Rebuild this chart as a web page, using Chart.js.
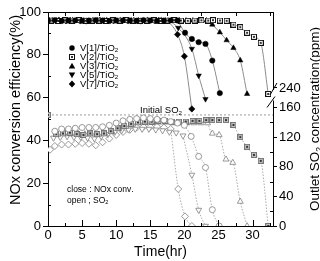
<!DOCTYPE html>
<html><head><meta charset="utf-8">
<script src="https://cdn.jsdelivr.net/npm/chart.js"></script>
<style>html,body{margin:0;padding:0;background:#fff}canvas{display:block}</style>
</head><body>
<canvas id="c" width="320" height="261" style="width:320px;height:261px"></canvas>
<script>
// ---------------- data ----------------
const catalysts = ['V[1]/TiO2','V[2]/TiO2','V[3]/TiO2','V[5]/TiO2','V[7]/TiO2'];
const xTicks = [0,5,10,15,20,25,30];
const leftTicks = [0,20,40,60,80,100];
const rightTicks = [0,40,80,120,160,240];
const initialSO2 = 150;

// NOx conversion (%), closed symbols
const noxTimeV1 = [0,1,2,3,4,5,6,7,8,9,10,11,12,13,14,15,16,17,18,19,20.1,21.1,22.1,23.1,24.1,25.2];
const noxV1     = [96,96.2,95.8,96,96.1,95.9,96,96.2,96,95.8,96,96.1,96,95.9,96.2,96,95.8,96,96.1,96,90.3,87.4,85.9,85.1,77.3,62.1];
const noxTimeV2 = [0.5,1.5,2.5,3.5,4.5,5.5,6.5,7.5,8.5,9.5,10.5,11.5,12.5,13.5,14.5,15.5,16.5,17.5,18.5,19.5,20.5,21.5,22.5,23.5,24.2,25.2,26.2,27.2,28.2,29.2,30.2,31.2,32.3];
const noxV2     = [96,95.8,96.1,96,96.2,95.9,96,96,95.8,96.1,96,96.2,96,95.9,96,96.1,95.8,96,96.2,96,95.9,96,96.1,96,96.2,96,95.9,94.1,92.9,90.3,88.4,85.6,61.7];
const noxTimeV3 = [0.25,1.25,2.25,3.25,4.25,5.25,6.25,7.25,8.25,9.25,10.25,11.25,12.25,13.25,14.25,15.25,16.25,17.25,18.25,19.25,20.25,21.25,22.25,23.25,24.1,25.2,26.2,27.2,28.2,29.2];
const noxV3     = [96.1,96,95.9,96.2,96,96,95.8,96.1,96,96.2,95.9,96,96,96.1,95.8,96,96.2,96,95.9,96.1,96,96,95.8,96,94.1,90.5,86.8,83.2,77.4,61.7];
const noxTimeV5 = [0.75,1.75,2.75,3.75,4.75,5.75,6.75,7.75,8.75,9.75,10.75,11.75,12.75,13.75,14.75,15.75,16.75,17.75,19.1,21.1,22.1,23.1];
const noxV5     = [95.9,96.1,96,96.2,95.8,96,96.1,96,95.9,96.2,96,95.8,96,96.1,96,95.9,96.2,96,92.6,82.8,70.3,59.3];
const noxTimeV7 = [0.6,1.6,2.6,3.6,4.6,5.6,6.6,7.6,8.6,9.6,10.6,11.6,12.6,13.6,14.6,15.6,16.6,17.6,19.0,20.0,21.1];
const noxV7     = [96,96.2,95.9,96,96.1,95.8,96,96.2,96,95.9,96,96.1,96,95.8,96.2,96,96,95.9,89.5,79.3,54.7];

// Outlet SO2 (ppm), open symbols
const so2TimeV1 = [1,2,3,4,5,6,7,8,9,10,11,12,13,14,15,16,17,18,19,20,21,22.1,23.1,24.1,25.1];
const so2V1     = [128,131,131,132,133,133,133,134,136,139,142,144,145,146,145,144,143,141,139,136,121,94,79,22,0];
const so2TimeV2 = [0,1.2,2.2,3.2,4.2,5.2,6.2,7.2,8.2,9.2,10.2,11.2,12.2,13.2,14.2,15.2,16.2,17.2,18.2,19.2,20.2,21.2,22.2,23.2,24.1,25.1,26.1,27.2,28.2,29.2,30.2,31.2,32.3];
const so2V2     = [150,124,125,126,124,123,125,124,125,128,132,135,138,140,141,141,142,142,141,141,141,142,142,143,143,143,143,136.5,120,107,96,88,0];
const so2TimeV3 = [1.4,2.4,3.4,4.4,5.4,6.4,7.4,8.4,9.4,10.4,11.4,12.4,13.4,14.4,15.4,16.4,17.4,18.4,19.4,20.4,21.4,22.4,23.4,24.1,25.1,26.1,27.1,28.2,29.2];
const so2V3     = [123,124,124,125,124,124,123,124,127,131,134,137,139,140,140,140,140,139,139,139,139,139,139,125,123,90,85.5,33,0];
const so2TimeV5 = [0.8,1.8,2.8,3.8,4.8,5.8,6.8,7.8,8.8,9.8,10.8,11.8,12.8,13.8,14.8,15.8,16.8,17.8,18.8,19.8,21.1,22.1,23.1];
const so2V5     = [119,120,121,120,120,119,118,121,124,127,129,130,131,131,131,130,129,127,126,122,69,21.6,0];
const so2TimeV7 = [0.3,1,2,3,4,5,6,7,8,9,10,11,12,13,14,15,16,17,18,19.1,20.1,21.1];
const so2V7     = [103,108,110,110,111,112,111,109,113,118,123,127,130,133,134,134,134,133,131,50,13,0];

// ---------------- helpers ----------------
const SANS = "'Liberation Sans', Arial, sans-serif";
const BREAK_AT = 160, BREAK_SCALE = 0.33, RIGHT_MAX = 289;
const rightPos = v => v <= BREAK_AT ? v : BREAK_AT + (v - BREAK_AT) * BREAK_SCALE;

function pts(ts, vs, map) { return ts.map((t, i) => ({x: t, y: map ? map(vs[i]) : vs[i]})); }
function fitFrom(ts, vs, thr, map) {
  let k = 0;
  vs.forEach((v, i) => { if (v >= thr) k = i; });
  return pts(ts.slice(k), vs.slice(k), map);
}
function squareDot(fill, stroke, dot) {
  const c = document.createElement('canvas'); c.width = c.height = 6;
  const g = c.getContext('2d');
  g.fillStyle = fill; g.fillRect(0.5, 0.5, 5, 5);
  g.strokeStyle = stroke; g.lineWidth = 1; g.strokeRect(0.5, 0.5, 5, 5);
  g.fillStyle = dot; g.fillRect(2, 2, 2, 2);
  return c;
}
const sqNox = squareDot('#fff', '#111', '#333');
const sqSo2 = squareDot('#c4c4c4', '#777', '#333');

const styles = [
  {ps: 'circle', rot: 0, r: 2.7},
  {ps: sqNox, ps2: sqSo2, rot: 0, r: 3},
  {ps: 'triangle', rot: 0, r: 3.1},
  {ps: 'triangle', rot: 180, r: 3.1},
  {ps: 'rectRot', rot: 0, r: 3.2},
];
const noxT = [noxTimeV1, noxTimeV2, noxTimeV3, noxTimeV5, noxTimeV7];
const noxV = [noxV1, noxV2, noxV3, noxV5, noxV7];
const so2T = [so2TimeV1, so2TimeV2, so2TimeV3, so2TimeV5, so2TimeV7];
const so2V = [so2V1, so2V2, so2V3, so2V5, so2V7];

const datasets = [];
datasets.push({data: [{x: 0, y: rightPos(initialSO2)}, {x: 33, y: rightPos(initialSO2)}], yAxisID: 'y2',
  showLine: true, borderColor: '#9a9a9a', borderWidth: 1, borderDash: [2, 2], pointRadius: 0, order: 20});
for (let s = 0; s < 5; s++) {
  datasets.push({data: fitFrom(so2T[s], so2V[s], 0.9 * Math.max(...so2V[s]), rightPos), yAxisID: 'y2',
    showLine: true, cubicInterpolationMode: 'monotone', borderColor: '#aaa', borderWidth: 1, borderDash: [1.5, 1.5],
    pointRadius: 0, order: 15});
  datasets.push({data: fitFrom(noxT[s], noxV[s], 95.5), yAxisID: 'y',
    showLine: true, cubicInterpolationMode: 'monotone', borderColor: '#8c8c8c', borderWidth: 1,
    pointRadius: 0, order: 14});
}
for (let s = 0; s < 5; s++) {
  const st = styles[s];
  datasets.push({data: pts(so2T[s], so2V[s], rightPos), yAxisID: 'y2', showLine: false,
    pointStyle: st.ps2 || st.ps, rotation: st.rot, pointRadius: st.r + 0.3,
    pointBackgroundColor: '#fff', pointBorderColor: '#808080', pointBorderWidth: 0.8, order: 5});
}
for (let s = 0; s < 5; s++) {
  const st = styles[s];
  datasets.push({data: pts(noxT[s], noxV[s]), yAxisID: 'y', showLine: false,
    pointStyle: st.ps, rotation: st.rot, pointRadius: st.r,
    pointBackgroundColor: '#000', pointBorderColor: '#000', pointBorderWidth: 0.5, order: 1});
}

function chemText(ctx, s, x, y, size, family, align) {
  const parts = [];
  for (let i = 0; i < s.length; i++) parts.push({t: s[i], sub: s[i] === '2' && i > 0 && s[i - 1] === 'O'});
  let w = 0;
  parts.forEach(p => { ctx.font = (p.sub ? size * 0.65 : size) + 'px ' + family; p.w = ctx.measureText(p.t).width; w += p.w; });
  let cx = align === 'center' ? x - w / 2 : align === 'right' ? x - w : x;
  parts.forEach(p => {
    ctx.font = (p.sub ? size * 0.65 : size) + 'px ' + family;
    ctx.textAlign = 'left';
    ctx.fillText(p.t, cx, y + (p.sub ? size * 0.22 : 0));
    cx += p.w;
  });
}
function legendMarker(ctx, s, x, y) {
  const st = styles[s];
  ctx.save(); ctx.fillStyle = '#000';
  if (st.ps === 'circle') { ctx.beginPath(); ctx.arc(x, y, 2.7, 0, Math.PI * 2); ctx.fill(); }
  else if (st.ps === 'triangle') {
    const d = st.rot ? -1 : 1;
    ctx.beginPath(); ctx.moveTo(x, y - 3.2 * d); ctx.lineTo(x + 3.2, y + 2.4 * d); ctx.lineTo(x - 3.2, y + 2.4 * d); ctx.closePath(); ctx.fill();
  } else if (st.ps === 'rectRot') {
    ctx.beginPath(); ctx.moveTo(x, y - 3.5); ctx.lineTo(x + 3.2, y); ctx.lineTo(x, y + 3.5); ctx.lineTo(x - 3.2, y); ctx.closePath(); ctx.fill();
  } else { ctx.drawImage(st.ps, Math.round(x - 3), Math.round(y - 3)); }
  ctx.restore();
}

const decor = {
  id: 'decor',
  afterDraw(chart) {
    const {ctx, chartArea: a, scales: {x, y, y2}} = chart;
    const px = v => Math.round(v) + 0.5;
    ctx.save();
    ctx.strokeStyle = '#000'; ctx.lineWidth = 1;
    ctx.beginPath();
    ctx.moveTo(a.left, px(a.top)); ctx.lineTo(a.right + 0.5, px(a.top));
    const yHi = y2.getPixelForValue(rightPos(240));
    const yLo = y2.getPixelForValue(rightPos(160));
    ctx.moveTo(px(a.right), a.top); ctx.lineTo(px(a.right), yHi + 2);
    ctx.moveTo(px(a.right), yLo - 7); ctx.lineTo(px(a.right), a.bottom + 0.5);
    ctx.moveTo(a.right - 3, yHi + 7); ctx.lineTo(a.right + 4, yHi - 5);
    ctx.moveTo(a.right - 6, yLo); ctx.lineTo(a.right + 2, yLo - 11);
    [10, 30, 50, 70, 90].forEach(v => { const p = px(y.getPixelForValue(v)); ctx.moveTo(a.left, p); ctx.lineTo(a.left + 3, p); });
    [20, 60, 100, 140].forEach(v => { const p = px(y2.getPixelForValue(v)); ctx.moveTo(a.right, p); ctx.lineTo(a.right - 3, p); });
    xTicks.forEach(v => { const p = px(x.getPixelForValue(v)); ctx.moveTo(p, a.bottom); ctx.lineTo(p, a.bottom - 6); });
    xTicks.forEach(v => { const p = px(x.getPixelForValue(v + 2.5)); ctx.moveTo(p, a.bottom); ctx.lineTo(p, a.bottom - 3);
      ctx.moveTo(p, a.top); ctx.lineTo(p, a.top + 4); });
    ctx.stroke();

    ctx.fillStyle = '#000'; ctx.textBaseline = 'middle';
    const rows = [48, 57, 66, 75, 84];
    catalysts.forEach((c, i) => { legendMarker(ctx, i, 72, rows[i]); chemText(ctx, c, 80, rows[i], 9.5, SANS, 'left'); });
    chemText(ctx, 'close : NOx conv.', 67, 190, 8.5, SANS, 'left');
    chemText(ctx, 'open ; SO2', 67, 201, 8.5, SANS, 'left');
    ctx.textBaseline = 'alphabetic';
    chemText(ctx, 'Initial SO2', 182, y2.getPixelForValue(rightPos(initialSO2)) - 2, 9.5, SANS, 'right');
    chemText(ctx, 'Time(hr)', (a.left + a.right) / 2, 256, 14, SANS, 'center');
    ctx.save(); ctx.translate(20, 110); ctx.rotate(-Math.PI / 2);
    chemText(ctx, 'NOx conversion efficiency(%)', 0, 0, 14.5, SANS, 'center'); ctx.restore();
    ctx.save(); ctx.translate(319, 119); ctx.rotate(-Math.PI / 2);
    chemText(ctx, 'Outlet SO2 concentration(ppm)', 0, 0, 13.5, SANS, 'center'); ctx.restore();
    ctx.restore();
  }
};

new Chart(document.getElementById('c'), {
  type: 'scatter',
  data: {datasets},
  options: {
    responsive: false, devicePixelRatio: 1, animation: false,
    layout: {padding: {top: 12, left: 0, right: 0, bottom: 0}},
    plugins: {legend: {display: false}, tooltip: {enabled: false}},
    scales: {
      x: {type: 'linear', min: 0, max: 33,
        afterBuildTicks: s => { s.ticks = xTicks.map(v => ({value: v})); },
        afterFit: s => { s.height = 35; },
        ticks: {color: '#000', font: {size: 13, family: SANS}, padding: 2, maxRotation: 0, autoSkip: false},
        grid: {display: false, drawTicks: false, tickLength: 0}, border: {display: true, color: '#000', width: 1}},
      y: {position: 'left', min: 0, max: 100,
        afterBuildTicks: s => { s.ticks = leftTicks.map(v => ({value: v})); },
        afterFit: s => { s.width = 48; },
        ticks: {color: '#000', font: {size: 13, family: SANS}, padding: 2, autoSkip: false},
        grid: {display: true, drawOnChartArea: false, drawTicks: true, tickLength: 5, color: '#000'},
        border: {display: true, color: '#000', width: 1}},
      y2: {position: 'right', min: 0, max: RIGHT_MAX,
        afterBuildTicks: s => { s.ticks = rightTicks.map(v => ({value: rightPos(v)})); },
        afterFit: s => { s.width = 47; },
        ticks: {color: '#000', font: {size: 13, family: SANS}, padding: 2, autoSkip: false,
          callback: (v, i) => String(rightTicks[i])},
        grid: {display: true, drawOnChartArea: false, drawTicks: true, tickLength: 4, color: '#000'},
        border: {display: false}}
    }
  },
  plugins: [decor]
});
</script>
</body></html>
